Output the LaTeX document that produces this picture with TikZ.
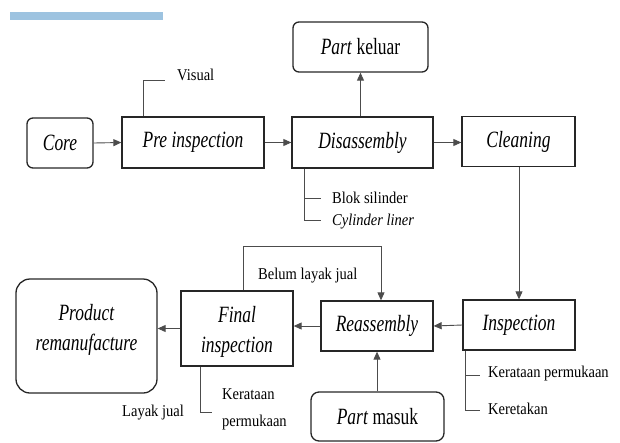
\documentclass[tikz,border=0pt]{standalone}
\usepackage{fontspec}
\setmainfont{Liberation Serif}
\newfontfamily\bigfnt[FakeStretch=0.75]{Liberation Serif}
\newfontfamily\smallfnt[FakeStretch=0.88]{Liberation Serif}
\usetikzlibrary{arrows.meta}
\begin{document}
\begin{tikzpicture}[x=1pt,y=-1pt,
  box/.style={draw=black!85,line width=1.3pt,minimum width=#1,inner sep=0pt,align=center,font=\bigfnt\fontsize{23.3}{30}\selectfont},
  rbox/.style={box=#1,rounded corners=6pt},
  conn/.style={draw=black!70,line width=0.9pt},
  arr/.style={conn,-{Triangle[length=8pt,width=7pt]}},
  lbl/.style={anchor=west,inner sep=0pt,font=\smallfnt\fontsize{16.5}{27}\selectfont}
]
\useasboundingbox (0,0) rectangle (620,442);
\fill[fill={rgb,255:red,157;green,195;blue,224}] (10,12) rectangle (163,20);
% nodes
\node[rbox=66pt,minimum height=50pt] (core) at (60,143) {\textit{Core}};
\node[box=142pt,minimum height=51pt] (pre) at (193,142.5) {\textit{Pre inspection}};
\node[box=141pt,minimum height=51pt] (dis) at (362.5,142.5) {\textit{Disassembly}};
\node[box=113pt,minimum height=50pt] (clean) at (518.5,141.5) {\textit{Cleaning}};
\node[rbox=135pt,minimum height=50pt] (pk) at (360.5,47) {\textit{Part} keluar};
\node[box=112pt,minimum height=50pt] (insp) at (519,325) {\textit{Inspection}};
\node[box=112pt,minimum height=50pt] (reas) at (377,326) {\textit{Reassembly}};
\node[box=112pt,minimum height=75pt] (final) at (237,328.5) {\raisebox{-3pt}[\height][\depth]{\begin{tabular}{@{}c@{}}\textit{Final}\\\textit{inspection}\end{tabular}}};
\node[box=141pt,minimum height=114pt,rounded corners=14pt] (prod) at (86.5,336) {\raisebox{7pt}[\height][\depth]{\begin{tabular}{@{}c@{}}\textit{Product}\\\textit{remanufacture}\end{tabular}}};
\node[rbox=133pt,minimum height=49pt,rounded corners=8pt] (pm) at (377.5,416.5) {\textit{Part} masuk};
% labels
\node[lbl] (vis) at (177,75) {Visual};
\node[lbl] (blok) at (332,198) {Blok silinder};
\node[lbl] (cyl) at (332,222) {\textit{Cylinder liner}};
\node[lbl] (belum) at (258,276) {Belum layak jual};
\node[lbl] (ker1) at (488,374) {Kerataan permukaan};
\node[lbl] (ker2) at (488,409) {Keretakan};
\node[lbl,align=left] (ker3) at (222,409.5) {Kerataan\\permukaan};
\node[lbl] (layak) at (122,413) {Layak jual};
% free-end coordinates
\coordinate (v1) at (143,80);
\coordinate (v2) at (165,80);
\coordinate (d1) at (304,220);
\coordinate (d2) at (321,198);
\coordinate (d3) at (321,220);
\coordinate (i1) at (465,410);
\coordinate (i2) at (480,375);
\coordinate (i3) at (480,410);
\coordinate (f1) at (200,412);
\coordinate (f2) at (212,412);
\coordinate (b1) at (243,246);
\coordinate (b2) at (381,246);
% main flow
\draw[arr] (core.east) -- (pre.west);
\draw[arr] (pre.east) -- (dis.west);
\draw[arr] (dis.east) -- (dis.east -| clean.west);
\draw[arr] (dis.north -| pk.south) -- (pk.south);
\draw[arr] (clean.south) -- (clean.south -| insp.north) -- (insp.north);
\draw[arr] (insp.west) -- (reas.east);
\draw[arr] (reas.west) -- (reas.west -| final.east);
\draw[arr] (final.west) -- (final.west -| prod.east);
\draw[arr] (pm.north -| reas.south) -- (reas.south);
\draw[arr] (final.north -| b1) -- (b1) -- (b2) -- (reas.north -| b2);
% branches
\draw[conn] (pre.north -| v1) -- (v1) -- (v2);
\draw[conn] (dis.south -| d1) -- (d1) -- (d3);
\draw[conn] (d1 |- d2) -- (d2);
\draw[conn] (insp.south -| i1) -- (i1) -- (i3);
\draw[conn] (i1 |- i2) -- (i2);
\draw[conn] (final.south -| f1) -- (f1) -- (f2);
\end{tikzpicture}
\end{document}
